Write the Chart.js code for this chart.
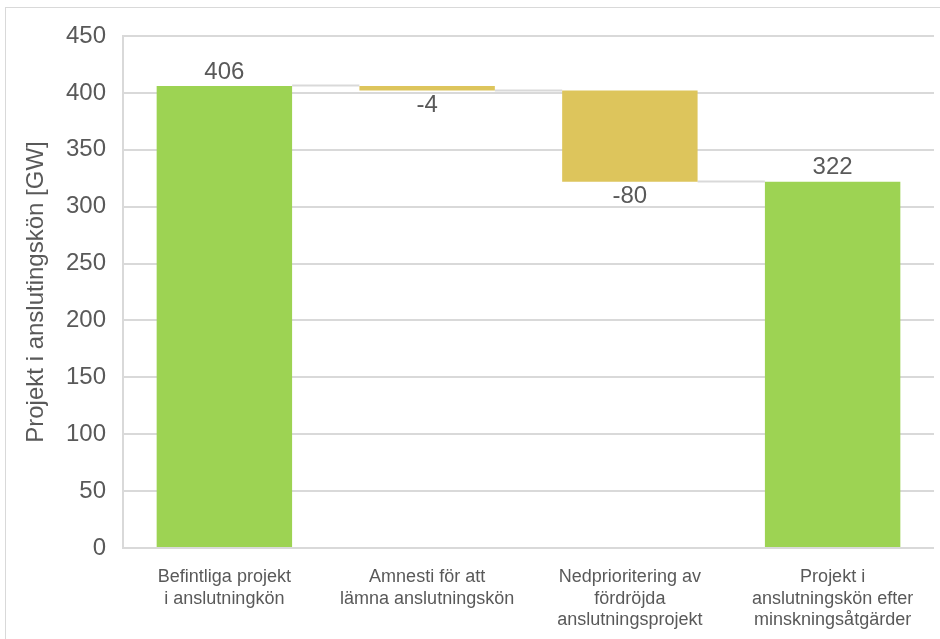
<!DOCTYPE html>
<html>
<head>
<meta charset="utf-8">
<script src="https://cdn.jsdelivr.net/npm/chart.js@4"></script>
<style>
  html, body { margin: 0; padding: 0; background: #fff; overflow: hidden; }
  #wrap { position: relative; width: 940px; height: 639px; }
  #frame { position: absolute; left: 5px; top: 7px; width: 960px; height: 700px; border: 1.5px solid #d9d9d9; box-sizing: border-box; pointer-events: none; }
  canvas { position: absolute; left: 0; top: 0; }
</style>
</head>
<body>
<div id="wrap">
  <div id="frame"></div>
  <canvas id="c" width="940" height="639"></canvas>
</div>
<script>
const categories = [
  ["Befintliga projekt", "i anslutningkön"],
  ["Amnesti för att", "lämna anslutningskön"],
  ["Nedprioritering av", "fördröjda", "anslutningsprojekt"],
  ["Projekt i", "anslutningskön efter", "minskningsåtgärder"]
];
const values = [406, -4, -80, 322];
const kinds = ["total", "delta", "delta", "total"];
const yTicks = { min: 0, max: 450, step: 50 };
const yTitle = "Projekt i anslutingskön [GW]";

const GREEN = "#9dd353";
const YELLOW = "#ddc55c";
const GRID = "#d9d9d9";
const TEXT = "#595959";
const FONT = "'Liberation Sans', Arial, sans-serif";

// floating ranges derived from values
const ranges = [];
const ends = [];
let running = 0;
values.forEach((v, i) => {
  if (kinds[i] === "total") { ranges.push([0, v]); running = v; }
  else { ranges.push([running, running + v]); running += v; }
  ends.push(running);
});
const colors = kinds.map(k => k === "total" ? GREEN : YELLOW);

const connectorPlugin = {
  id: "connectors",
  beforeDatasetsDraw(chart) {
    const meta = chart.getDatasetMeta(0);
    const y = chart.scales.y;
    const ctx = chart.ctx;
    ctx.save();
    ctx.strokeStyle = GRID;
    ctx.lineWidth = 2;
    for (let i = 0; i < meta.data.length - 1; i++) {
      const a = meta.data[i], b = meta.data[i + 1];
      const py = Math.round(y.getPixelForValue(ends[i])) - 0.5;
      ctx.beginPath();
      ctx.moveTo(a.x + a.width / 2, py);
      ctx.lineTo(b.x - b.width / 2, py);
      ctx.stroke();
    }
    ctx.restore();
  }
};

const labelPlugin = {
  id: "valueLabels",
  afterDatasetsDraw(chart) {
    const meta = chart.getDatasetMeta(0);
    const y = chart.scales.y;
    const ctx = chart.ctx;
    ctx.save();
    ctx.fillStyle = TEXT;
    ctx.font = "24px " + FONT;
    ctx.textAlign = "center";
    ctx.textBaseline = "middle";
    meta.data.forEach((el, i) => {
      const r = ranges[i];
      const hi = Math.max(r[0], r[1]), lo = Math.min(r[0], r[1]);
      if (kinds[i] === "total") {
        ctx.fillText(String(values[i]), el.x, y.getPixelForValue(hi) - 14);
      } else {
        ctx.fillText(String(values[i]), el.x, y.getPixelForValue(lo) + 15);
      }
    });
    ctx.restore();
  }
};

new Chart(document.getElementById("c"), {
  type: "bar",
  data: {
    labels: categories,
    datasets: [{
      data: ranges,
      backgroundColor: colors,
      borderWidth: 0,
      categoryPercentage: 1,
      barPercentage: 0.668
    }]
  },
  options: {
    responsive: false,
    animation: false,
    layout: { padding: { top: 36, right: 6, bottom: 0, left: 0 } },
    plugins: { legend: { display: false }, tooltip: { enabled: false } },
    scales: {
      x: {
        grid: { display: false, drawTicks: false },
        border: { display: false },
        ticks: { color: TEXT, font: { family: FONT, size: 18, lineHeight: 1.17 }, padding: 19, maxRotation: 0, autoSkip: false },
        afterFit(s) { s.height = 91; }
      },
      y: {
        min: yTicks.min, max: yTicks.max,
        ticks: { stepSize: yTicks.step, color: TEXT, font: { family: FONT, size: 24 }, padding: 17 },
        grid: { color: GRID, lineWidth: 2, drawTicks: false },
        border: { display: true, color: GRID, width: 2 },
        title: { display: true, text: yTitle, color: TEXT, font: { family: FONT, size: 24 }, padding: { top: 22, bottom: 0 } },
        afterFit(s) { s.width = 123; }
      }
    }
  },
  plugins: [connectorPlugin, labelPlugin]
});
</script>
</body>
</html>
